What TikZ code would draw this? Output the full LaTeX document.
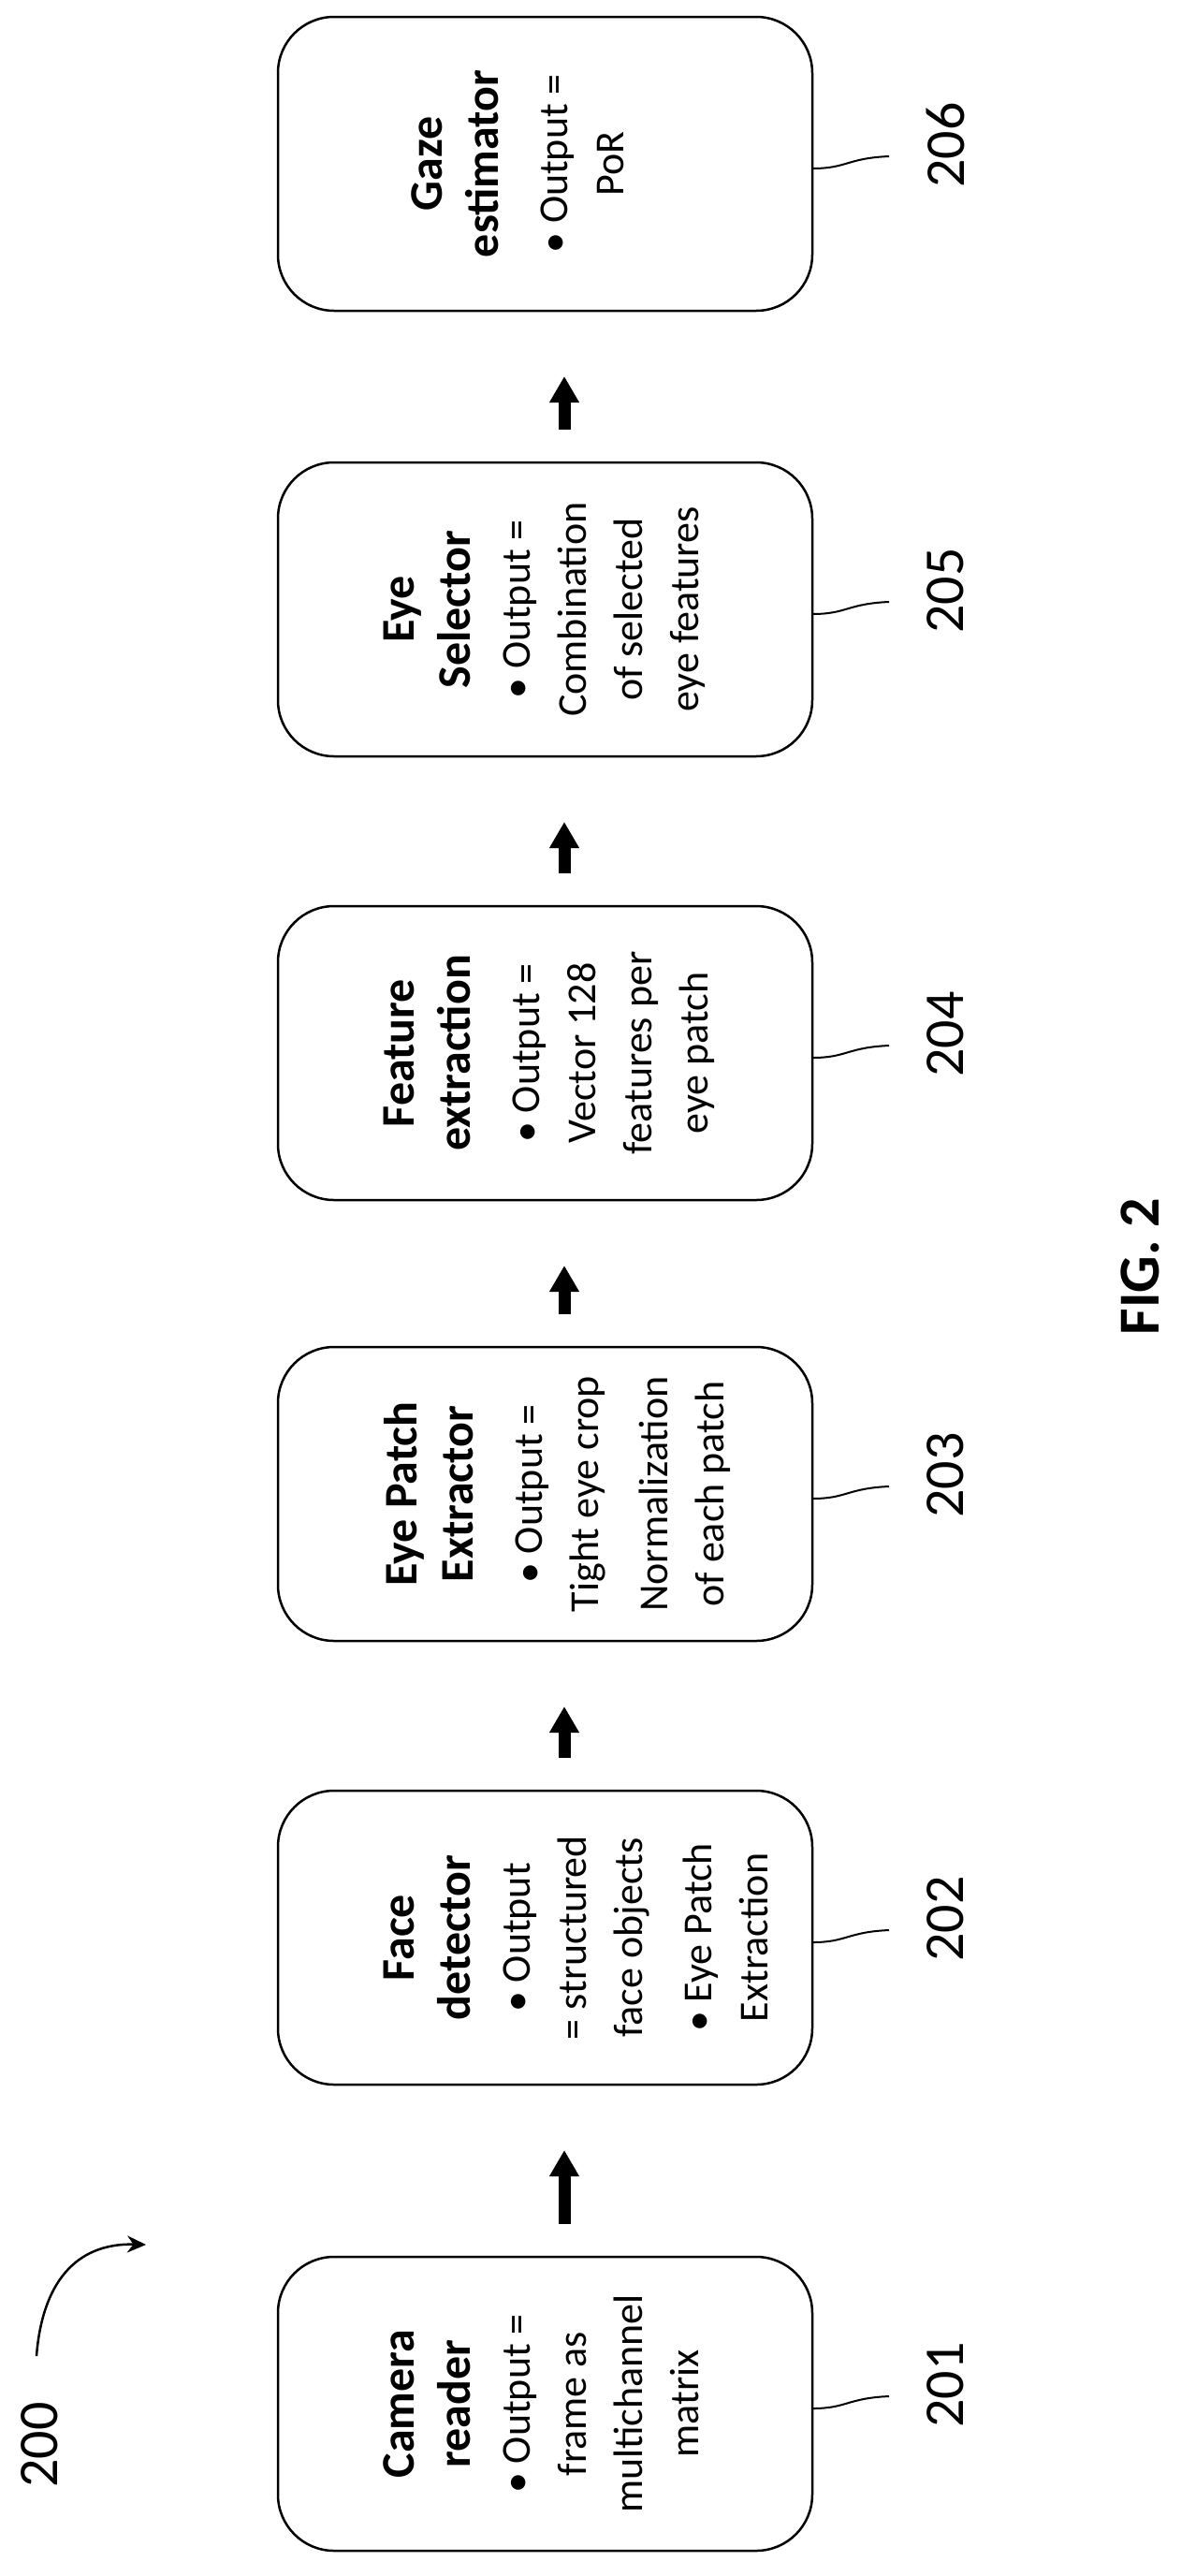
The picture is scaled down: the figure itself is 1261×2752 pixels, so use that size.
\documentclass[tikz,border=0pt]{standalone}
\usepackage{fontspec}
\setmainfont{Carlito}
\usetikzlibrary{arrows.meta}
\newcommand{\tfont}{\fontsize{50}{62}\selectfont\bfseries}
\begin{document}
\begin{tikzpicture}[x=1pt,y=-1pt,
  box/.style={draw,line width=2.5pt,rounded corners=60pt},
  txt/.style={rotate=90,anchor=north,align=center,font=\fontsize{44}{60}\selectfont,inner sep=0pt},
  arr/.style={line width=13pt,-{Triangle[width=30pt,length=28pt]}},
  num/.style={rotate=90,font=\fontsize{60}{70}\selectfont},
  lead/.style={line width=2pt}]
\useasboundingbox (0,0) rectangle (1261,2752);
\foreach \k/\c in {206/175,205/651,204/1125,203/1596,202/2070,201/2568}{
  \draw[box] (297,\c-157) rectangle (868,\c+157);
  \coordinate (b\k) at (868,\c+5);
  \coordinate (e\k) at (950,\c-8);
  \draw[lead] (b\k) .. controls (905,\c+5) and (905,\c-6) .. (e\k);
  \node[num] (l\k) at (1010,\c-20) {\k};
  \coordinate (top\k) at (603,\c-157);
  \coordinate (bot\k) at (603,\c+157);
}
\node[txt] (t201) at (410,2568) {{\tfont Camera}\\{\tfont reader}\\[4pt]\textbullet\ Output =\\frame as\\multichannel\\matrix};
\node[txt] (t202) at (410,2070) {{\tfont Face}\\{\tfont detector}\\[4pt]\textbullet\ Output\\= structured\\face objects\\[14pt]\textbullet\ Eye Patch\\Extraction};
\node[txt] (t203) at (410,1596) {{\tfont Eye Patch}\\{\tfont Extractor}\\[14pt]\textbullet\ Output =\\Tight eye crop\\[14pt]Normalization\\of each patch};
\node[txt] (t204) at (410,1125) {{\tfont Feature}\\{\tfont extraction}\\[14pt]\textbullet\ Output =\\Vector 128\\features per\\eye patch};
\node[txt] (t205) at (410,651) {{\tfont Eye}\\{\tfont Selector}\\[4pt]\textbullet\ Output =\\Combination\\of selected\\eye features};
\node[txt] (t206) at (440,175) {{\tfont Gaze}\\{\tfont estimator}\\[14pt]\textbullet\ Output =\\PoR};
\foreach \a/\b in {201/202,202/203,203/204,204/205,205/206}{
  \draw[arr] ([yshift=35pt]top\a) -- ([yshift=-70pt]bot\b);
}
\node[num] (n200) at (42,2612) {200};
\coordinate (s200) at (39,2517);
\coordinate (h200) at (156,2398);
\draw[line width=2.5pt,-{Stealth[length=20pt,width=18pt]}] (s200) .. controls (45,2440) and (80,2396) .. (h200);
\node[rotate=90,font=\fontsize{62}{70}\selectfont\bfseries] (fig) at (1218,1353) {FIG. 2};
\end{tikzpicture}
\end{document}
